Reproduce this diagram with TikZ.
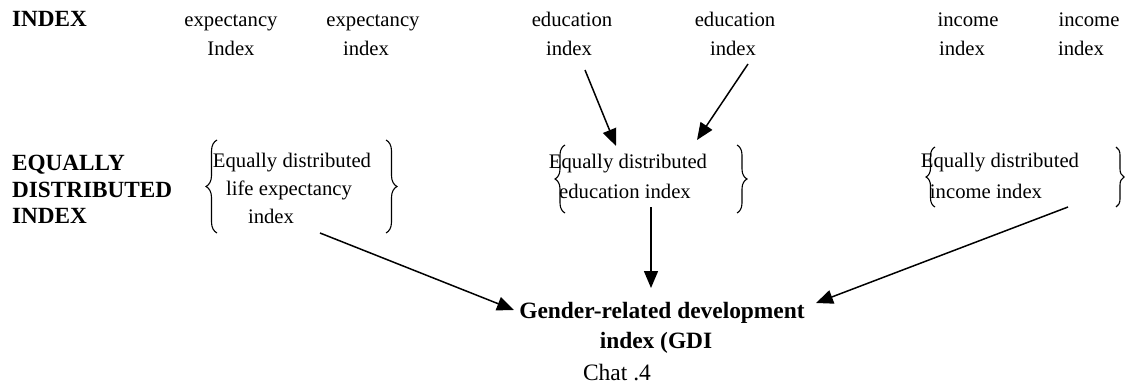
\documentclass[tikz,border=0pt]{standalone}
\usepackage{fontspec}
\setmainfont{Liberation Serif}
\usetikzlibrary{arrows.meta,decorations.pathreplacing}
\begin{document}
\begin{tikzpicture}[x=1pt,y=-1pt,
  lbl/.style={anchor=base,inner sep=0pt,font=\fontsize{20.7}{24}\selectfont},
  head/.style={anchor=base west,inner sep=0pt,font=\fontsize{23.2}{27}\selectfont\bfseries},
  bold/.style={lbl,font=\fontsize{23.4}{27}\selectfont\bfseries},
  caption/.style={lbl,font=\fontsize{23.5}{27}\selectfont},
  conn/.style={line width=1.5pt,-{Triangle[length=17pt,width=14pt]}},
  brace/.style={decorate,decoration={brace,amplitude=#1},line width=1.1pt},
]
\useasboundingbox (0,0) rectangle (1125,388);

% top row
\node[head] (hIndex) at (12,27) {INDEX};
\node[lbl] (le1a) at (231,27) {expectancy};
\node[lbl] (le1b) at (231,55) {Index};
\node[lbl] (le2a) at (373,27) {expectancy};
\node[lbl] (le2b) at (366,55) {index};
\node[lbl] (ed1a) at (572,27) {education};
\node[lbl] (ed1b) at (569,55) {index};
\node[lbl] (ed2a) at (735,27) {education};
\node[lbl] (ed2b) at (733,55) {index};
\node[lbl] (in1a) at (968,27) {income};
\node[lbl] (in1b) at (962,55) {index};
\node[lbl] (in2a) at (1089,27) {income};
\node[lbl] (in2b) at (1081,55) {index};

% middle row heading
\node[head] (hEq1) at (12,170) {EQUALLY};
\node[head] (hEq2) at (12,197) {DISTRIBUTED};
\node[head] (hEq3) at (12,223) {INDEX};

% equally distributed life expectancy index
\node[lbl] (edl1) at (292,167) {Equally distributed};
\node[lbl] (edl2) at (289,195) {life expectancy};
\node[lbl] (edl3) at (271,223) {index};
\draw[brace=11pt] (217,233) -- (217,140);
\draw[brace=11pt] (386,140) -- (386,233);

% equally distributed education index
\node[lbl] (ede1) at (628,168) {Equally distributed};
\node[lbl] (ede2) at (625,198) {education index};
\draw[brace=10pt] (565,213) -- (565,145);
\draw[brace=10pt] (737,145) -- (737,213);

% equally distributed income index
\node[lbl] (edi1) at (1000,167) {Equally distributed};
\node[lbl] (edi2) at (986,198) {income index};
\draw[brace=9pt] (935,207) -- (935,147);
\draw[brace=8pt] (1116,147) -- (1116,207);

% GDI
\node[bold] (gdi1) at (662,318) {Gender-related development};
\node[bold] (gdi2) at (656,348) {index (GDI};
\node[caption] (chat) at (617,380) {Chat .4};

% connector ends
\coordinate (e1s) at (585,70);
\coordinate (e1t) at (616,146);
\coordinate (e2s) at (748,64);
\coordinate (e2t) at (697,140);
\coordinate (lfs) at (320,233);
\coordinate (lft) at (514,310);
\coordinate (mds) at (651,207);
\coordinate (mdt) at (651,288);
\coordinate (rts) at (1068,207);
\coordinate (rtt) at (816,303);

\draw[conn] (e1s) -- (e1t);
\draw[conn] (e2s) -- (e2t);
\draw[conn] (lfs) -- (lft);
\draw[conn] (mds) -- (mdt);
\draw[conn] (rts) -- (rtt);
\end{tikzpicture}
\end{document}
